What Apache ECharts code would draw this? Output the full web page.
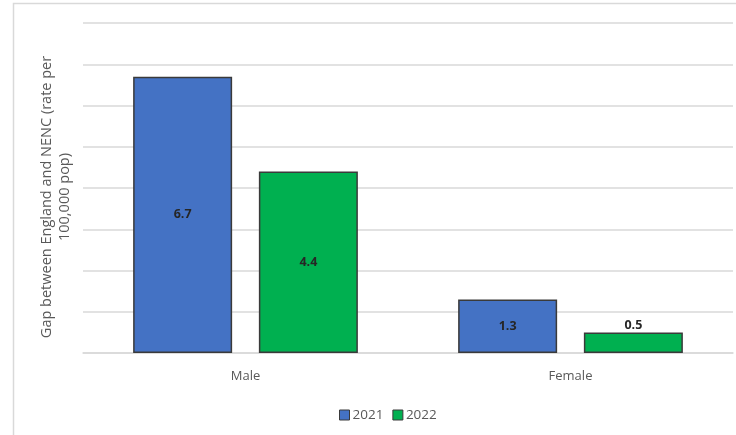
<!DOCTYPE html>
<html>
<head>
<meta charset="utf-8">
<script src="https://cdn.jsdelivr.net/npm/echarts@6/dist/echarts.min.js"></script>
<style>
  html, body { margin: 0; padding: 0; background: #fff; }
  #chart { width: 736px; height: 435px; }
</style>
</head>
<body>
<div id="chart"></div>
<script>
// Gap in rate per 100,000 population, by sex and year
const categories = ['Male', 'Female'];
const seriesNames = ['2021', '2022'];
const values2021 = [6.7, 1.3];
const values2022 = [4.4, 0.5];
const yTitle = 'Gap between England and NENC (rate per\n100,000 pop)';

const chart = echarts.init(document.getElementById('chart'), null, { renderer: 'canvas' });

const FONT = 'Open Sans';

function barSeries(name, data, color, labelPos) {
  return {
    name: name,
    type: 'bar',
    data: data.map((v, i) => ({
      value: v,
      label: { position: labelPos[i], distance: 0 }
    })),
    barWidth: 99,
    barGap: '27%',
    itemStyle: { color: color, borderColor: '#3a3a3a', borderWidth: 1.5 },
    label: {
      show: true,
      fontFamily: FONT,
      fontSize: 12.5,
      fontWeight: 'bold',
      color: '#262626',
      formatter: p => p.value.toFixed(1)
    }
  };
}

chart.setOption({
  animation: false,
  textStyle: { fontFamily: FONT },
  graphic: [{
    type: 'rect',
    shape: { x: 13.5, y: 3.5, width: 800, height: 500 },
    style: { fill: 'none', stroke: '#d9d9d9', lineWidth: 1.5 },
    silent: true,
    z: -1
  }, {
    // rotated value-axis title
    type: 'text',
    x: 56,
    y: 197,
    rotation: Math.PI / 2,
    style: {
      text: yTitle,
      fontFamily: FONT,
      fontSize: 14.5,
      lineHeight: 18,
      fill: '#595959',
      align: 'center',
      verticalAlign: 'middle'
    },
    silent: true
  }],
  grid: { left: 83, right: 3, top: 23, bottom: 82, containLabel: false },
  legend: {
    top: 403,
    left: 334,
    itemWidth: 10,
    itemHeight: 10,
    itemGap: 9,
    icon: 'rect',
    data: seriesNames,
    itemStyle: { borderColor: '#3a3a3a', borderWidth: 1 },
    textStyle: { fontFamily: FONT, fontSize: 13.5, color: '#595959', padding: [0, 0, 0, -2] }
  },
  xAxis: {
    type: 'category',
    data: categories,
    axisLine: { lineStyle: { color: '#d9d9d9', width: 1.5 } },
    axisTick: { show: false },
    axisLabel: { fontFamily: FONT, fontSize: 13, color: '#595959', margin: 17 }
  },
  yAxis: {
    type: 'value',
    min: 0,
    max: 8,
    interval: 1,
    axisLabel: { show: false },
    axisLine: { show: false },
    axisTick: { show: false },
    splitLine: { lineStyle: { color: '#d9d9d9', width: 1.5 } }
  },
  series: [
    barSeries(seriesNames[0], values2021, '#4472c4', ['inside', 'inside']),
    barSeries(seriesNames[1], values2022, '#00b050', ['inside', 'top'])
  ]
});
</script>
</body>
</html>
